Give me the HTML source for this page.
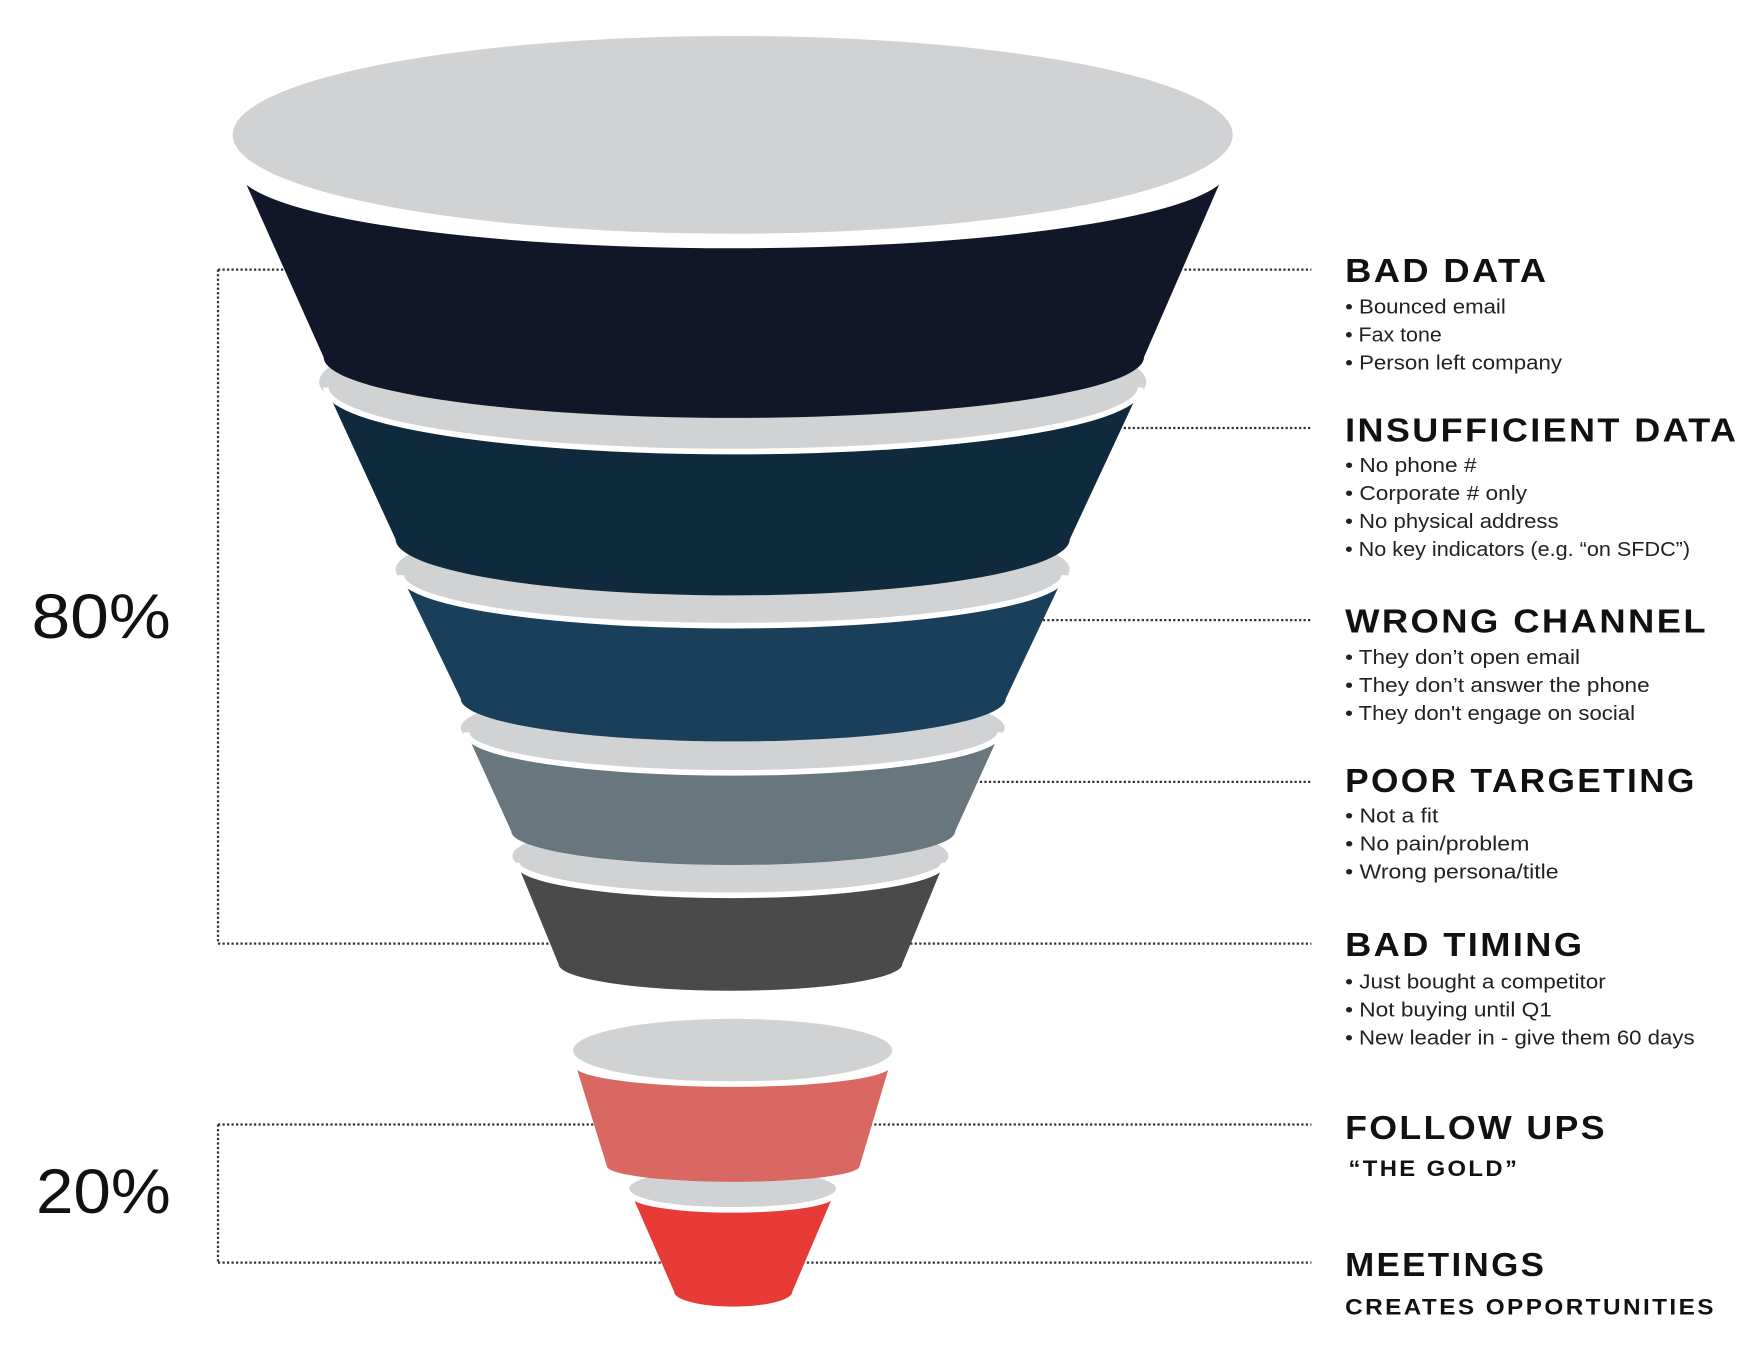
<!DOCTYPE html>
<html><head><meta charset="utf-8"><style>
html,body{margin:0;padding:0;background:#fff;}
svg{display:block;}
text{font-family:"Liberation Sans",sans-serif;fill:#111;}
.h{font-size:30px;font-weight:bold;letter-spacing:2px;}
.b{font-size:18px;fill:#222;}
.s{font-size:20px;font-weight:bold;letter-spacing:2px;}
.p{font-size:56px;}
</style></head><body>
<svg width="1762" height="1348" viewBox="0 0 1568 1200" preserveAspectRatio="none" xmlns="http://www.w3.org/2000/svg">
<g stroke="#333" stroke-width="2" stroke-dasharray="2,2" fill="none">
<path d="M194 240H1167M194 240V840M194 840H1167M600 381H1167M600 552H1167M600 696H1167"/>
<path d="M194 1001H1167M194 1001V1124M194 1124H1167"/>
</g>
<ellipse cx="652" cy="1058" rx="92" ry="17" fill="#d1d2d4"/>
<path d="M562 1063 A90 14 0 0 0 742 1063 L705 1150 A52 13 0 0 1 600 1150 Z" fill="#e83a37"/>
<path d="M562 1063 A90 14 0 0 0 742 1063" stroke="#fff" stroke-width="5" fill="none"/>
<ellipse cx="652" cy="935" rx="142" ry="28" fill="#d1d2d4"/>
<path d="M512 947 A140 18 0 0 0 792 947 L765 1038 A112 14 0 0 1 540 1038 Z" fill="#d96862"/>
<path d="M512 947 A140 18 0 0 0 792 947" stroke="#fff" stroke-width="5" fill="none"/>
<ellipse cx="650" cy="762" rx="194" ry="33" fill="#d1d2d4"/>
<path d="M460 768 A190 29 0 0 0 840 768 L803 858 A153 24 0 0 1 497 858 Z" fill="#4a4a4a"/>
<path d="M460 768 A190 29 0 0 0 840 768" stroke="#fff" stroke-width="5" fill="none"/>
<ellipse cx="652" cy="648" rx="242" ry="38" fill="#d1d2d4"/>
<path d="M415 652 A237.5 36 0 0 0 890 652 L850 740 A197.5 30 0 0 1 455 740 Z" fill="#68767e"/>
<path d="M415 652 A237.5 36 0 0 0 890 652" stroke="#fff" stroke-width="5" fill="none"/>
<ellipse cx="652" cy="507" rx="300" ry="48" fill="#d1d2d4"/>
<path d="M357 512 A295 45 0 0 0 947 512 L895 622 A242.5 38 0 0 1 410 622 Z" fill="#1a3f5a"/>
<path d="M357 512 A295 45 0 0 0 947 512" stroke="#fff" stroke-width="5" fill="none"/>
<ellipse cx="652" cy="340" rx="368" ry="60" fill="#d1d2d4"/>
<path d="M290 345 A362.5 57 0 0 0 1015 345 L952 480 A300 50 0 0 1 352 480 Z" fill="#0f2a3d"/>
<path d="M290 345 A362.5 57 0 0 0 1015 345" stroke="#fff" stroke-width="5" fill="none"/>
<path d="M212 148 A440 70 0 0 0 1092 148 L1018 318 A365 54 0 0 1 288 318 Z" fill="#121629"/>
<ellipse cx="652" cy="120" rx="445" ry="88" fill="#d1d2d4"/>
<path d="M212 148 A440 70 0 0 0 1092 148" stroke="#fff" stroke-width="6" fill="none"/>

<text class="p" x="28" y="568" textLength="124" lengthAdjust="spacingAndGlyphs">80%</text>
<text class="p" x="32" y="1080" textLength="120" lengthAdjust="spacingAndGlyphs">20%</text>

<text class="h" x="1197" y="251" textLength="181" lengthAdjust="spacingAndGlyphs">BAD DATA</text>
<text class="b" x="1197" y="279" textLength="143" lengthAdjust="spacingAndGlyphs">• Bounced email</text>
<text class="b" x="1197" y="304" textLength="86" lengthAdjust="spacingAndGlyphs">• Fax tone</text>
<text class="b" x="1197" y="329" textLength="193" lengthAdjust="spacingAndGlyphs">• Person left company</text>

<text class="h" x="1197" y="393" textLength="350" lengthAdjust="spacingAndGlyphs">INSUFFICIENT DATA</text>
<text class="b" x="1197" y="420" textLength="117" lengthAdjust="spacingAndGlyphs">• No phone #</text>
<text class="b" x="1197" y="445" textLength="162" lengthAdjust="spacingAndGlyphs">• Corporate # only</text>
<text class="b" x="1197" y="470" textLength="190" lengthAdjust="spacingAndGlyphs">• No physical address</text>
<text class="b" x="1197" y="495" textLength="307" lengthAdjust="spacingAndGlyphs">• No key indicators (e.g. “on SFDC”)</text>

<text class="h" x="1197" y="563" textLength="323" lengthAdjust="spacingAndGlyphs">WRONG CHANNEL</text>
<text class="b" x="1197" y="591" textLength="209" lengthAdjust="spacingAndGlyphs">• They don’t open email</text>
<text class="b" x="1197" y="616" textLength="271" lengthAdjust="spacingAndGlyphs">• They don’t answer the phone</text>
<text class="b" x="1197" y="641" textLength="258" lengthAdjust="spacingAndGlyphs">• They don't engage on social</text>

<text class="h" x="1197" y="705" textLength="313" lengthAdjust="spacingAndGlyphs">POOR TARGETING</text>
<text class="b" x="1197" y="732" textLength="83" lengthAdjust="spacingAndGlyphs">• Not a fit</text>
<text class="b" x="1197" y="757" textLength="164" lengthAdjust="spacingAndGlyphs">• No pain/problem</text>
<text class="b" x="1197" y="782" textLength="190" lengthAdjust="spacingAndGlyphs">• Wrong persona/title</text>

<text class="h" x="1197" y="851" textLength="213" lengthAdjust="spacingAndGlyphs">BAD TIMING</text>
<text class="b" x="1197" y="880" textLength="232" lengthAdjust="spacingAndGlyphs">• Just bought a competitor</text>
<text class="b" x="1197" y="905" textLength="184" lengthAdjust="spacingAndGlyphs">• Not buying until Q1</text>
<text class="b" x="1197" y="930" textLength="311" lengthAdjust="spacingAndGlyphs">• New leader in - give them 60 days</text>

<text class="h" x="1197" y="1014" textLength="233" lengthAdjust="spacingAndGlyphs">FOLLOW UPS</text>
<text class="s" x="1200" y="1047" textLength="152" lengthAdjust="spacingAndGlyphs">“THE GOLD”</text>

<text class="h" x="1197" y="1136" textLength="179" lengthAdjust="spacingAndGlyphs">MEETINGS</text>
<text class="s" x="1197" y="1170" textLength="330" lengthAdjust="spacingAndGlyphs">CREATES OPPORTUNITIES</text>
</svg>
</body></html>
